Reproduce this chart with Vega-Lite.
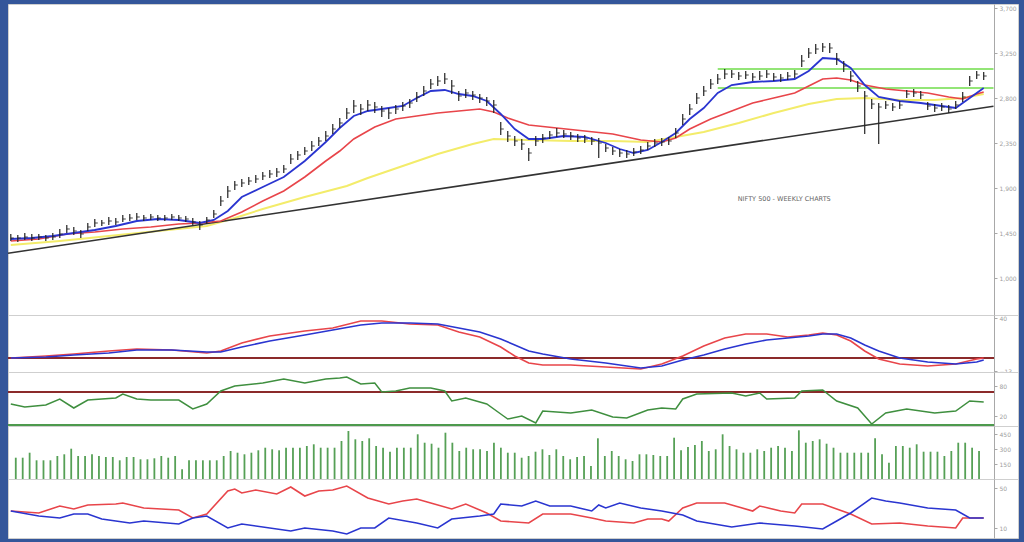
{
"$schema": "https://vega.github.io/schema/vega-lite/v6.json",
"background": "#34569a",
"padding": {"left": 4, "top": 3, "right": 10, "bottom": 5},
"spacing": 0,
"bounds": "flush",
"config": {
  "font": "DejaVu Sans",
  "view": {"stroke": "#cfcfcf", "fill": "#ffffff", "strokeWidth": 1},
  "axis": {"domainColor": "#a8a8a8", "tickColor": "#a8a8a8", "labelColor": "#a0a0a0", "labelFontSize": 6, "tickSize": 3, "grid": false, "labelPadding": 2}
},
"datasets": {
"bars": [
{"i":0,"h":1440,"l":1370,"c":1400},{"i":1,"h":1430,"l":1360,"c":1400},{"i":2,"h":1450,"l":1380,"c":1410},{"i":3,"h":1440,"l":1370,"c":1400},{"i":4,"h":1440,"l":1380,"c":1410},{"i":5,"h":1430,"l":1370,"c":1400},{"i":6,"h":1450,"l":1380,"c":1410},{"i":7,"h":1490,"l":1400,"c":1440},{"i":8,"h":1530,"l":1450,"c":1490},{"i":9,"h":1510,"l":1430,"c":1470},
{"i":10,"h":1480,"l":1400,"c":1440},{"i":11,"h":1550,"l":1470,"c":1510},{"i":12,"h":1590,"l":1510,"c":1550},{"i":13,"h":1580,"l":1520,"c":1550},{"i":14,"h":1610,"l":1530,"c":1570},{"i":15,"h":1600,"l":1530,"c":1560},{"i":16,"h":1630,"l":1560,"c":1590},{"i":17,"h":1640,"l":1570,"c":1600},{"i":18,"h":1650,"l":1580,"c":1610},{"i":19,"h":1630,"l":1570,"c":1600},
{"i":20,"h":1640,"l":1580,"c":1610},{"i":21,"h":1630,"l":1570,"c":1600},{"i":22,"h":1630,"l":1570,"c":1600},{"i":23,"h":1640,"l":1580,"c":1610},{"i":24,"h":1630,"l":1570,"c":1600},{"i":25,"h":1620,"l":1560,"c":1590},{"i":26,"h":1600,"l":1530,"c":1560},{"i":27,"h":1570,"l":1480,"c":1530},{"i":28,"h":1610,"l":1540,"c":1580},{"i":29,"h":1680,"l":1600,"c":1640},
{"i":30,"h":1820,"l":1720,"c":1770},{"i":31,"h":1920,"l":1800,"c":1870},{"i":32,"h":1970,"l":1880,"c":1930},{"i":33,"h":1990,"l":1910,"c":1950},{"i":34,"h":2010,"l":1930,"c":1970},{"i":35,"h":2030,"l":1950,"c":1990},{"i":36,"h":2060,"l":1980,"c":2020},{"i":37,"h":2080,"l":2000,"c":2040},{"i":38,"h":2100,"l":2010,"c":2060},{"i":39,"h":2130,"l":2050,"c":2090},
{"i":40,"h":2240,"l":2140,"c":2190},{"i":41,"h":2270,"l":2180,"c":2230},{"i":42,"h":2310,"l":2230,"c":2270},{"i":43,"h":2370,"l":2270,"c":2320},{"i":44,"h":2410,"l":2320,"c":2370},{"i":45,"h":2470,"l":2370,"c":2420},{"i":46,"h":2540,"l":2440,"c":2490},{"i":47,"h":2600,"l":2500,"c":2550},{"i":48,"h":2700,"l":2590,"c":2650},{"i":49,"h":2780,"l":2650,"c":2720},
{"i":50,"h":2740,"l":2630,"c":2690},{"i":51,"h":2780,"l":2670,"c":2730},{"i":52,"h":2760,"l":2650,"c":2710},{"i":53,"h":2720,"l":2610,"c":2670},{"i":54,"h":2700,"l":2590,"c":2650},{"i":55,"h":2730,"l":2640,"c":2690},{"i":56,"h":2760,"l":2670,"c":2720},{"i":57,"h":2790,"l":2700,"c":2750},{"i":58,"h":2860,"l":2760,"c":2810},{"i":59,"h":2920,"l":2820,"c":2870},
{"i":60,"h":2990,"l":2890,"c":2940},{"i":61,"h":3020,"l":2920,"c":2970},{"i":62,"h":3050,"l":2940,"c":2990},{"i":63,"h":2980,"l":2840,"c":2920},{"i":64,"h":2870,"l":2770,"c":2820},{"i":65,"h":2890,"l":2800,"c":2850},{"i":66,"h":2870,"l":2780,"c":2830},{"i":67,"h":2840,"l":2750,"c":2800},{"i":68,"h":2810,"l":2720,"c":2770},{"i":69,"h":2780,"l":2650,"c":2730},
{"i":70,"h":2560,"l":2430,"c":2490},{"i":71,"h":2470,"l":2360,"c":2420},{"i":72,"h":2420,"l":2320,"c":2370},{"i":73,"h":2390,"l":2280,"c":2340},{"i":74,"h":2300,"l":2170,"c":2250},{"i":75,"h":2420,"l":2320,"c":2370},{"i":76,"h":2440,"l":2350,"c":2400},{"i":77,"h":2470,"l":2390,"c":2430},{"i":78,"h":2500,"l":2410,"c":2450},{"i":79,"h":2480,"l":2400,"c":2440},
{"i":80,"h":2460,"l":2380,"c":2420},{"i":81,"h":2440,"l":2360,"c":2400},{"i":82,"h":2430,"l":2350,"c":2390},{"i":83,"h":2410,"l":2330,"c":2370},{"i":84,"h":2400,"l":2200,"c":2350},{"i":85,"h":2340,"l":2260,"c":2300},{"i":86,"h":2310,"l":2230,"c":2270},{"i":87,"h":2290,"l":2210,"c":2250},{"i":88,"h":2280,"l":2200,"c":2240},{"i":89,"h":2300,"l":2220,"c":2260},
{"i":90,"h":2320,"l":2240,"c":2280},{"i":91,"h":2360,"l":2280,"c":2320},{"i":92,"h":2390,"l":2310,"c":2350},{"i":93,"h":2400,"l":2320,"c":2360},{"i":94,"h":2410,"l":2330,"c":2370},{"i":95,"h":2500,"l":2400,"c":2450},{"i":96,"h":2640,"l":2530,"c":2590},{"i":97,"h":2740,"l":2630,"c":2690},{"i":98,"h":2850,"l":2740,"c":2800},{"i":99,"h":2920,"l":2820,"c":2870},
{"i":100,"h":2990,"l":2890,"c":2940},{"i":101,"h":3040,"l":2940,"c":2990},{"i":102,"h":3090,"l":2990,"c":3040},{"i":103,"h":3080,"l":3000,"c":3040},{"i":104,"h":3060,"l":2980,"c":3020},{"i":105,"h":3070,"l":2990,"c":3030},{"i":106,"h":3050,"l":2970,"c":3010},{"i":107,"h":3070,"l":2980,"c":3020},{"i":108,"h":3080,"l":3000,"c":3040},{"i":109,"h":3050,"l":2970,"c":3010},
{"i":110,"h":3040,"l":2960,"c":3000},{"i":111,"h":3060,"l":2980,"c":3020},{"i":112,"h":3080,"l":3000,"c":3040},{"i":113,"h":3230,"l":3110,"c":3170},{"i":114,"h":3300,"l":3200,"c":3250},{"i":115,"h":3340,"l":3240,"c":3290},{"i":116,"h":3350,"l":3260,"c":3310},{"i":117,"h":3350,"l":3250,"c":3300},{"i":118,"h":3250,"l":3130,"c":3190},{"i":119,"h":3170,"l":3060,"c":3120},
{"i":120,"h":3070,"l":2960,"c":3020},{"i":121,"h":2970,"l":2860,"c":2920},{"i":122,"h":2870,"l":2440,"c":2820},{"i":123,"h":2790,"l":2690,"c":2740},{"i":124,"h":2750,"l":2340,"c":2710},{"i":125,"h":2770,"l":2690,"c":2730},{"i":126,"h":2750,"l":2670,"c":2710},{"i":127,"h":2770,"l":2690,"c":2730},{"i":128,"h":2880,"l":2800,"c":2840},{"i":129,"h":2890,"l":2810,"c":2850},
{"i":130,"h":2870,"l":2790,"c":2830},{"i":131,"h":2760,"l":2680,"c":2720},{"i":132,"h":2740,"l":2660,"c":2700},{"i":133,"h":2750,"l":2670,"c":2710},{"i":134,"h":2730,"l":2650,"c":2690},{"i":135,"h":2770,"l":2690,"c":2730},{"i":136,"h":2860,"l":2760,"c":2810},{"i":137,"h":3020,"l":2920,"c":2970},{"i":138,"h":3070,"l":2990,"c":3030},{"i":139,"h":3060,"l":2980,"c":3020}
],
"ma5": [
{"i":0,"p":1390},{"i":3,"p":1400},{"i":6,"p":1420},{"i":9,"p":1450},{"i":12,"p":1480},{"i":15,"p":1520},{"i":18,"p":1570},{"i":21,"p":1590},{"i":24,"p":1580},{"i":27,"p":1550},{"i":29,"p":1580},{"i":31,"p":1670},{"i":33,"p":1810},{"i":36,"p":1910},{"i":39,"p":2010},{"i":42,"p":2170},{"i":45,"p":2360},{"i":47,"p":2500},{"i":49,"p":2620},{"i":51,"p":2670},{"i":54,"p":2700},{"i":56,"p":2720},{"i":58,"p":2800},{"i":60,"p":2870},{"i":62,"p":2880},{"i":64,"p":2840},{"i":66,"p":2820},{"i":68,"p":2770},{"i":70,"p":2640},{"i":72,"p":2490},{"i":74,"p":2390},{"i":76,"p":2390},{"i":79,"p":2420},{"i":82,"p":2410},{"i":85,"p":2350},{"i":87,"p":2290},{"i":89,"p":2250},{"i":91,"p":2280},{"i":93,"p":2360},{"i":95,"p":2450},{"i":97,"p":2590},{"i":99,"p":2700},{"i":101,"p":2850},{"i":103,"p":2930},{"i":106,"p":2960},{"i":109,"p":2970},{"i":112,"p":2990},{"i":114,"p":3070},{"i":116,"p":3200},{"i":118,"p":3190},{"i":120,"p":3100},{"i":122,"p":2930},{"i":124,"p":2810},{"i":127,"p":2770},{"i":130,"p":2750},{"i":133,"p":2720},{"i":135,"p":2700},{"i":137,"p":2800},{"i":139,"p":2900}
],
"ma20": [
{"i":0,"p":1370},{"i":4,"p":1390},{"i":8,"p":1440},{"i":12,"p":1460},{"i":16,"p":1490},{"i":20,"p":1510},{"i":24,"p":1540},{"i":27,"p":1550},{"i":30,"p":1570},{"i":33,"p":1660},{"i":36,"p":1770},{"i":39,"p":1870},{"i":42,"p":2010},{"i":45,"p":2170},{"i":47,"p":2270},{"i":49,"p":2390},{"i":52,"p":2510},{"i":55,"p":2590},{"i":58,"p":2620},{"i":61,"p":2650},{"i":64,"p":2670},{"i":67,"p":2690},{"i":69,"p":2660},{"i":71,"p":2600},{"i":74,"p":2530},{"i":78,"p":2500},{"i":82,"p":2470},{"i":86,"p":2440},{"i":90,"p":2380},{"i":93,"p":2360},{"i":95,"p":2400},{"i":97,"p":2490},{"i":100,"p":2590},{"i":103,"p":2670},{"i":106,"p":2750},{"i":109,"p":2800},{"i":112,"p":2850},{"i":114,"p":2920},{"i":116,"p":2990},{"i":118,"p":3000},{"i":120,"p":2980},{"i":122,"p":2930},{"i":125,"p":2890},{"i":128,"p":2870},{"i":131,"p":2850},{"i":134,"p":2810},{"i":136,"p":2790},{"i":138,"p":2840},{"i":139,"p":2860}
],
"ma50": [
{"i":0,"p":1330},{"i":7,"p":1370},{"i":14,"p":1420},{"i":21,"p":1470},{"i":28,"p":1520},{"i":32,"p":1600},{"i":36,"p":1690},{"i":42,"p":1810},{"i":48,"p":1920},{"i":51,"p":2000},{"i":56,"p":2120},{"i":61,"p":2240},{"i":66,"p":2340},{"i":69,"p":2390},{"i":74,"p":2380},{"i":80,"p":2370},{"i":86,"p":2370},{"i":91,"p":2360},{"i":95,"p":2410},{"i":99,"p":2460},{"i":104,"p":2550},{"i":109,"p":2650},{"i":114,"p":2740},{"i":118,"p":2790},{"i":122,"p":2800},{"i":127,"p":2780},{"i":132,"p":2780},{"i":136,"p":2800},{"i":139,"p":2840}
],
"trend": [{"i":-0.4,"p":1248},{"i":140.4,"p":2718}],
"levels": [{"i":101,"i2":140.4,"p":3090},{"i":101,"i2":140.4,"p":2900}],
"note": [{"i":110.5,"p":1790,"t":"NIFTY 500 - WEEKLY CHARTS"}],
"macd": [
{"i":0,"r":0,"b":0},{"i":5,"r":2,"b":1},{"i":9,"r":4,"b":3},{"i":14,"r":7,"b":5},{"i":18,"r":9,"b":8},{"i":23,"r":8,"b":8},{"i":28,"r":5,"b":6},{"i":30,"r":7,"b":6},{"i":33,"r":15,"b":11},{"i":37,"r":22,"b":17},{"i":42,"r":27,"b":23},{"i":46,"r":30,"b":28},{"i":50,"r":37,"b":33},{"i":53,"r":37,"b":35},{"i":57,"r":34,"b":35},{"i":61,"r":33,"b":34},{"i":64,"r":26,"b":30},{"i":67,"r":21,"b":26},{"i":70,"r":11,"b":19},{"i":72,"r":2,"b":13},{"i":74,"r":-5,"b":7},{"i":76,"r":-7,"b":4},{"i":80,"r":-7,"b":-1},{"i":85,"r":-9,"b":-5},{"i":90,"r":-11,"b":-10},{"i":93,"r":-6,"b":-8},{"i":96,"r":2,"b":-2},{"i":99,"r":12,"b":3},{"i":102,"r":20,"b":9},{"i":105,"r":24,"b":14},{"i":108,"r":24,"b":18},{"i":111,"r":21,"b":20},{"i":114,"r":23,"b":22},{"i":116,"r":25,"b":24},{"i":118,"r":23,"b":24},{"i":120,"r":17,"b":20},{"i":122,"r":7,"b":13},{"i":124,"r":-1,"b":7},{"i":127,"r":-6,"b":0},{"i":131,"r":-8,"b":-4},{"i":135,"r":-6,"b":-6},{"i":138,"r":-1,"b":-4},{"i":139,"r":0,"b":-2}
],
"rsi": [
{"i":0,"r":44},{"i":2,"r":38},{"i":5,"r":42},{"i":7,"r":54},{"i":9,"r":36},{"i":11,"r":52},{"i":15,"r":56},{"i":16,"r":64},{"i":18,"r":54},{"i":20,"r":52},{"i":24,"r":52},{"i":26,"r":34},{"i":28,"r":44},{"i":30,"r":70},{"i":32,"r":80},{"i":36,"r":86},{"i":39,"r":94},{"i":42,"r":86},{"i":45,"r":94},{"i":47,"r":96},{"i":48,"r":98},{"i":50,"r":84},{"i":52,"r":86},{"i":53,"r":68},{"i":55,"r":70},{"i":57,"r":76},{"i":60,"r":76},{"i":62,"r":70},{"i":63,"r":50},{"i":65,"r":56},{"i":68,"r":44},{"i":70,"r":24},{"i":71,"r":14},{"i":73,"r":20},{"i":75,"r":6},{"i":76,"r":30},{"i":80,"r":26},{"i":83,"r":32},{"i":86,"r":18},{"i":88,"r":16},{"i":91,"r":32},{"i":93,"r":36},{"i":95,"r":34},{"i":96,"r":54},{"i":98,"r":64},{"i":103,"r":66},{"i":105,"r":60},{"i":107,"r":66},{"i":108,"r":54},{"i":112,"r":56},{"i":113,"r":70},{"i":116,"r":72},{"i":118,"r":50},{"i":121,"r":36},{"i":123,"r":4},{"i":125,"r":26},{"i":128,"r":34},{"i":132,"r":26},{"i":135,"r":30},{"i":137,"r":50},{"i":139,"r":48}
],
"vol": [
{"i":0,"v":213},{"i":1,"v":213},{"i":2,"v":263},{"i":3,"v":187},{"i":4,"v":187},{"i":5,"v":187},{"i":6,"v":230},{"i":7,"v":247},{"i":8,"v":303},{"i":9,"v":230},
{"i":10,"v":230},{"i":11,"v":247},{"i":12,"v":230},{"i":13,"v":220},{"i":14,"v":220},{"i":15,"v":187},{"i":16,"v":220},{"i":17,"v":220},{"i":18,"v":197},{"i":19,"v":197},
{"i":20,"v":207},{"i":21,"v":230},{"i":22,"v":213},{"i":23,"v":230},{"i":24,"v":97},{"i":25,"v":187},{"i":26,"v":187},{"i":27,"v":187},{"i":28,"v":187},{"i":29,"v":187},
{"i":30,"v":230},{"i":31,"v":280},{"i":32,"v":263},{"i":33,"v":247},{"i":34,"v":263},{"i":35,"v":287},{"i":36,"v":313},{"i":37,"v":297},{"i":38,"v":287},{"i":39,"v":313},
{"i":40,"v":313},{"i":41,"v":313},{"i":42,"v":330},{"i":43,"v":347},{"i":44,"v":313},{"i":45,"v":313},{"i":46,"v":313},{"i":47,"v":380},{"i":48,"v":480},{"i":49,"v":397},
{"i":50,"v":380},{"i":51,"v":407},{"i":52,"v":330},{"i":53,"v":313},{"i":54,"v":273},{"i":55,"v":313},{"i":56,"v":313},{"i":57,"v":313},{"i":58,"v":447},{"i":59,"v":363},
{"i":60,"v":353},{"i":61,"v":313},{"i":62,"v":463},{"i":63,"v":363},{"i":64,"v":280},{"i":65,"v":313},{"i":66,"v":297},{"i":67,"v":297},{"i":68,"v":280},{"i":69,"v":363},
{"i":70,"v":313},{"i":71,"v":263},{"i":72,"v":263},{"i":73,"v":213},{"i":74,"v":230},{"i":75,"v":273},{"i":76,"v":297},{"i":77,"v":240},{"i":78,"v":297},{"i":79,"v":230},
{"i":80,"v":197},{"i":81,"v":220},{"i":82,"v":230},{"i":83,"v":130},{"i":84,"v":407},{"i":85,"v":230},{"i":86,"v":280},{"i":87,"v":230},{"i":88,"v":197},{"i":89,"v":180},
{"i":90,"v":247},{"i":91,"v":247},{"i":92,"v":240},{"i":93,"v":230},{"i":94,"v":230},{"i":95,"v":413},{"i":96,"v":287},{"i":97,"v":320},{"i":98,"v":340},{"i":99,"v":380},
{"i":100,"v":280},{"i":101,"v":297},{"i":102,"v":447},{"i":103,"v":330},{"i":104,"v":297},{"i":105,"v":263},{"i":106,"v":263},{"i":107,"v":297},{"i":108,"v":280},{"i":109,"v":313},
{"i":110,"v":330},{"i":111,"v":313},{"i":112,"v":280},{"i":113,"v":487},{"i":114,"v":363},{"i":115,"v":380},{"i":116,"v":397},{"i":117,"v":353},{"i":118,"v":313},{"i":119,"v":263},
{"i":120,"v":263},{"i":121,"v":263},{"i":122,"v":263},{"i":123,"v":263},{"i":124,"v":407},{"i":125,"v":247},{"i":126,"v":163},{"i":127,"v":330},{"i":128,"v":330},{"i":129,"v":313},
{"i":130,"v":347},{"i":131,"v":273},{"i":132,"v":273},{"i":133,"v":273},{"i":134,"v":230},{"i":135,"v":280},{"i":136,"v":363},{"i":137,"v":363},{"i":138,"v":313},{"i":139,"v":280}
],
"dmiR": [
{"i":0,"d":27},{"i":4,"d":25},{"i":7,"d":32},{"i":9,"d":29},{"i":11,"d":33},{"i":15,"d":34},{"i":16,"d":35},{"i":19,"d":30},{"i":24,"d":28},{"i":26,"d":20},{"i":28,"d":24},{"i":31,"d":47},{"i":32,"d":49},{"i":33,"d":45},{"i":35,"d":48},{"i":38,"d":44},{"i":40,"d":51},{"i":42,"d":42},{"i":44,"d":47},{"i":46,"d":48},{"i":48,"d":52},{"i":51,"d":40},{"i":54,"d":34},{"i":56,"d":37},{"i":58,"d":39},{"i":60,"d":35},{"i":63,"d":29},{"i":65,"d":34},{"i":68,"d":25},{"i":70,"d":17},{"i":74,"d":15},{"i":76,"d":24},{"i":80,"d":24},{"i":83,"d":20},{"i":85,"d":17},{"i":89,"d":15},{"i":91,"d":19},{"i":93,"d":19},{"i":94,"d":17},{"i":96,"d":30},{"i":98,"d":35},{"i":102,"d":35},{"i":106,"d":27},{"i":107,"d":32},{"i":110,"d":27},{"i":112,"d":25},{"i":113,"d":34},{"i":116,"d":34},{"i":120,"d":24},{"i":123,"d":14},{"i":127,"d":15},{"i":131,"d":12},{"i":135,"d":10},{"i":136,"d":20},{"i":139,"d":20}
],
"dmiB": [
{"i":0,"d":27},{"i":4,"d":22},{"i":7,"d":20},{"i":9,"d":24},{"i":11,"d":24},{"i":13,"d":19},{"i":17,"d":15},{"i":19,"d":17},{"i":24,"d":14},{"i":26,"d":20},{"i":28,"d":22},{"i":31,"d":10},{"i":33,"d":14},{"i":40,"d":7},{"i":42,"d":10},{"i":46,"d":7},{"i":48,"d":4},{"i":50,"d":10},{"i":52,"d":10},{"i":54,"d":20},{"i":58,"d":15},{"i":61,"d":10},{"i":63,"d":19},{"i":67,"d":22},{"i":69,"d":24},{"i":70,"d":34},{"i":73,"d":32},{"i":75,"d":37},{"i":77,"d":32},{"i":80,"d":32},{"i":83,"d":27},{"i":84,"d":33},{"i":85,"d":30},{"i":87,"d":35},{"i":90,"d":30},{"i":93,"d":27},{"i":96,"d":23},{"i":98,"d":17},{"i":103,"d":11},{"i":107,"d":15},{"i":112,"d":12},{"i":116,"d":9},{"i":118,"d":17},{"i":120,"d":25},{"i":123,"d":40},{"i":125,"d":37},{"i":127,"d":35},{"i":131,"d":30},{"i":135,"d":28},{"i":137,"d":20},{"i":139,"d":20}
]
},
"vconcat": [
{
"width": 1010, "height": 311,
"layer": [
{"data": {"name": "ma50"}, "mark": {"type": "line", "color": "#f3ec6a", "strokeWidth": 2}, "encoding": {"x": {"field": "i", "type": "quantitative", "title": null, "scale": {"domain": [-0.4, 143.9], "nice": false, "zero": false}, "axis": null}, "y": {"field": "p", "type": "quantitative", "title": null, "scale": {"domain": [630, 3740], "nice": false, "zero": false}, "axis": {"orient": "right", "offset": -24, "values": [1000, 1450, 1900, 2350, 2800, 3250, 3700]}}}},
{"data": {"name": "trend"}, "mark": {"type": "line", "color": "#333333", "strokeWidth": 1.6}, "encoding": {"x": {"field": "i", "type": "quantitative", "title": null}, "y": {"field": "p", "type": "quantitative", "title": null}}},
{"data": {"name": "levels"}, "mark": {"type": "rule", "color": "#6fdc4a", "strokeWidth": 1.6}, "encoding": {"x": {"field": "i", "type": "quantitative", "title": null}, "x2": {"field": "i2"}, "y": {"field": "p", "type": "quantitative", "title": null}}},
{"data": {"name": "ma20"}, "mark": {"type": "line", "color": "#e8454a", "strokeWidth": 1.6}, "encoding": {"x": {"field": "i", "type": "quantitative", "title": null}, "y": {"field": "p", "type": "quantitative", "title": null}}},
{"data": {"name": "ma5"}, "mark": {"type": "line", "color": "#2a35d0", "strokeWidth": 1.8}, "encoding": {"x": {"field": "i", "type": "quantitative", "title": null}, "y": {"field": "p", "type": "quantitative", "title": null}}},
{"data": {"name": "bars"}, "mark": {"type": "rule", "color": "#222222", "strokeWidth": 1.2}, "encoding": {"x": {"field": "i", "type": "quantitative", "title": null}, "y": {"field": "l", "type": "quantitative", "title": null}, "y2": {"field": "h"}}},
{"data": {"name": "bars"}, "mark": {"type": "tick", "orient": "horizontal", "color": "#222222", "size": 3, "thickness": 1.2, "xOffset": 1.5}, "encoding": {"x": {"field": "i", "type": "quantitative", "title": null}, "y": {"field": "c", "type": "quantitative", "title": null}}},
{"data": {"name": "note"}, "mark": {"type": "text", "fontSize": 6.5, "color": "#666666"}, "encoding": {"x": {"field": "i", "type": "quantitative", "title": null}, "y": {"field": "p", "type": "quantitative", "title": null}, "text": {"field": "t"}}}
]
},
{
"width": 1010, "height": 57,
"layer": [
{"data": {"name": "macd"}, "mark": {"type": "rule", "color": "#8b2b2b", "strokeWidth": 1.5}, "encoding": {"x": {"datum": -0.4, "type": "quantitative", "title": null, "scale": {"domain": [-0.4, 143.9], "nice": false, "zero": false}, "axis": null}, "x2": {"datum": 140.4}, "y": {"datum": 0, "type": "quantitative", "title": null, "scale": {"domain": [-14, 43], "nice": false, "zero": false}, "axis": {"orient": "right", "offset": -24, "values": [-13, 0, 14, 27, 40]}}}},
{"data": {"name": "macd"}, "mark": {"type": "line", "color": "#e8454a", "strokeWidth": 1.6}, "encoding": {"x": {"field": "i", "type": "quantitative", "title": null}, "y": {"field": "r", "type": "quantitative", "title": null}}},
{"data": {"name": "macd"}, "mark": {"type": "line", "color": "#2a35d0", "strokeWidth": 1.6}, "encoding": {"x": {"field": "i", "type": "quantitative", "title": null}, "y": {"field": "b", "type": "quantitative", "title": null}}}
]
},
{
"width": 1010, "height": 54,
"layer": [
{"data": {"name": "rsi"}, "mark": {"type": "rule", "color": "#8b2b2b", "strokeWidth": 1.5}, "encoding": {"x": {"datum": -0.4, "type": "quantitative", "title": null, "scale": {"domain": [-0.4, 143.9], "nice": false, "zero": false}, "axis": null}, "x2": {"datum": 140.4}, "y": {"datum": 68, "type": "quantitative", "title": null, "scale": {"domain": [0, 108], "nice": false, "zero": false}, "axis": {"orient": "right", "offset": -24, "values": [20, 50, 80]}}}},
{"data": {"name": "rsi"}, "mark": {"type": "rule", "color": "#4e9a4e", "strokeWidth": 1.5}, "encoding": {"x": {"datum": -0.4, "type": "quantitative", "title": null}, "x2": {"datum": 140.4}, "y": {"datum": 2, "type": "quantitative", "title": null}}},
{"data": {"name": "rsi"}, "mark": {"type": "line", "color": "#3f8f3f", "strokeWidth": 1.5}, "encoding": {"x": {"field": "i", "type": "quantitative", "title": null}, "y": {"field": "r", "type": "quantitative", "title": null}}}
]
},
{
"width": 1010, "height": 53,
"layer": [
{"data": {"name": "vol"}, "mark": {"type": "bar", "color": "#56a056", "size": 1.8}, "encoding": {"x": {"field": "i", "type": "quantitative", "title": null, "scale": {"domain": [-0.4, 143.9], "nice": false, "zero": false}, "axis": null}, "y": {"field": "v", "type": "quantitative", "title": null, "scale": {"domain": [0, 530], "nice": false}, "axis": {"orient": "right", "offset": -24, "values": [150, 300, 450]}}}}
]
},
{
"width": 1010, "height": 59,
"layer": [
{"data": {"name": "dmiR"}, "mark": {"type": "line", "color": "#e8454a", "strokeWidth": 1.6}, "encoding": {"x": {"field": "i", "type": "quantitative", "title": null, "scale": {"domain": [-0.4, 143.9], "nice": false, "zero": false}, "axis": null}, "y": {"field": "d", "type": "quantitative", "title": null, "scale": {"domain": [0, 59], "nice": false, "zero": false}, "axis": {"orient": "right", "offset": -24, "values": [10, 20, 30, 40, 50]}}}},
{"data": {"name": "dmiB"}, "mark": {"type": "line", "color": "#2a35d0", "strokeWidth": 1.6}, "encoding": {"x": {"field": "i", "type": "quantitative", "title": null}, "y": {"field": "d", "type": "quantitative", "title": null}}}
]
}
]
}
